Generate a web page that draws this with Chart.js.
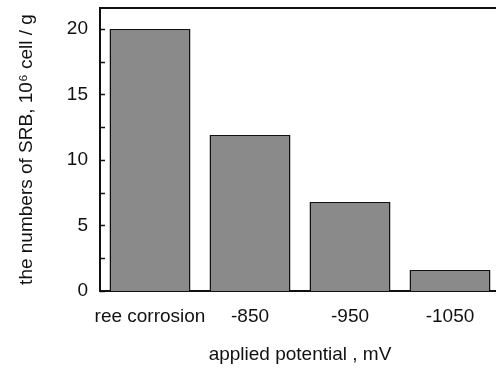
<!DOCTYPE html>
<html>
<head>
<meta charset="utf-8">
<script src="https://cdn.jsdelivr.net/npm/chart.js@4/dist/chart.umd.min.js"></script>
<style>
  html, body { margin: 0; padding: 0; overflow: hidden; background: #fff; }
  canvas { display: block; }
</style>
</head>
<body>
<canvas id="srb_chart" width="502" height="369"></canvas>
<script>
// values
const categories = ['ree corrosion', '-850', '-950', '-1050'];
const srb_counts = [20, 11.9, 6.8, 1.6];
const y_ticks = [0, 5, 10, 15, 20];
const y_minor = [2.5, 7.5, 12.5, 17.5];

const font_name = '"Liberation Sans", Arial, sans-serif';

// inward tick marks + top frame line, like the scanned plot
const frame_plugin = {
    id: 'frame',
    afterDraw(chart) {
        const ctx = chart.ctx;
        const area = chart.chartArea;
        const y = chart.scales.y;
        ctx.save();
        ctx.strokeStyle = '#111';
        ctx.lineWidth = 2;
        ctx.beginPath();
        ctx.moveTo(area.left, area.top);
        ctx.lineTo(area.right, area.top);
        ctx.stroke();
        ctx.lineWidth = 1.5;
        y_ticks.concat(y_minor).forEach(function (v) {
            const py = Math.round(y.getPixelForValue(v)) + 0.5;
            ctx.beginPath();
            ctx.moveTo(area.left, py);
            ctx.lineTo(area.left + 5, py);
            ctx.stroke();
        });
        ctx.restore();
    }
};

new Chart(document.getElementById('srb_chart'), {
    type: 'bar',
    data: {
        labels: categories,
        datasets: [{
            label: 'SRB',
            data: srb_counts,
            backgroundColor: '#8a8a8a',
            borderColor: '#111',
            borderWidth: 1.5,
            borderSkipped: 'bottom',
            categoryPercentage: 1.0,
            barPercentage: 0.81
        }]
    },
    options: {
        responsive: false,
        animation: false,
        devicePixelRatio: 1,
        layout: { padding: { top: 8, right: 2, left: 0, bottom: 0 } },
        plugins: {
            legend: { display: false },
            tooltip: { enabled: false }
        },
        scales: {
            x: {
                grid: { display: false },
                border: { display: true, color: '#111', width: 2 },
                ticks: {
                    color: '#111',
                    font: { family: font_name, size: 19 },
                    padding: 6,
                    maxRotation: 0,
                    autoSkip: false
                },
                title: {
                    display: true,
                    text: 'applied potential , mV',
                    color: '#111',
                    font: { family: font_name, size: 19 },
                    padding: { top: 0, bottom: 3 }
                },
                afterFit(scale) { scale.height = 78; }
            },
            y: {
                min: 0,
                max: 21.6,
                afterBuildTicks(scale) {
                    scale.ticks = y_ticks.map(function (v) { return { value: v }; });
                },
                grid: { display: false },
                border: { display: true, color: '#111', width: 2 },
                ticks: {
                    color: '#111',
                    font: { family: font_name, size: 19 },
                    padding: 4
                },
                title: {
                    display: true,
                    text: 'the numbers of SRB, 10\u2076 cell / g',
                    color: '#111',
                    font: { family: font_name, size: 19 },
                    padding: { top: 15, bottom: 0 }
                },
                afterFit(scale) {
                    scale.width = 100;
                    scale.paddingTop = 0;
                    scale.paddingBottom = 0;
                }
            }
        }
    },
    plugins: [frame_plugin]
});
</script>
</body>
</html>
